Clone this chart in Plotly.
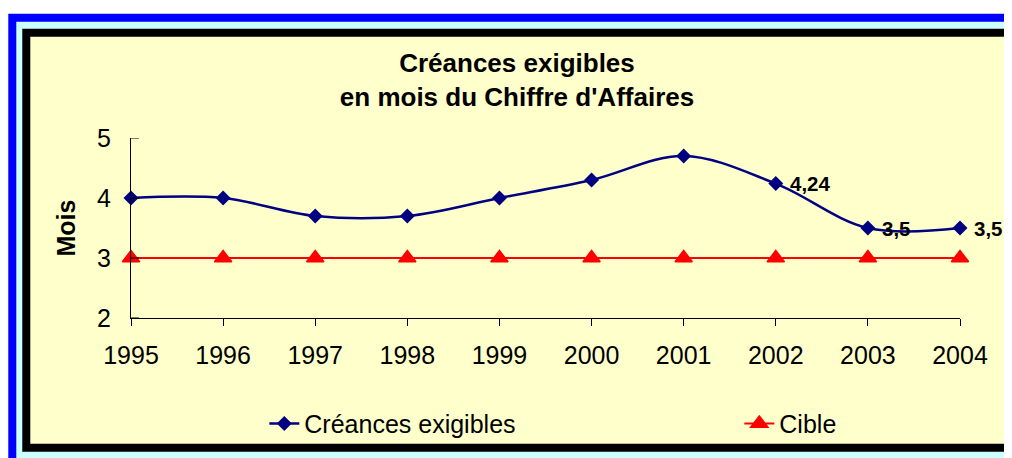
import plotly.graph_objects as go

# ---- data ----
years = [1995, 1996, 1997, 1998, 1999, 2000, 2001, 2002, 2003, 2004]
creances = [4.0, 4.0, 3.7, 3.7, 4.0, 4.3, 4.7, 4.24, 3.5, 3.5]
cible = [3, 3, 3, 3, 3, 3, 3, 3, 3, 3]
labeled_years = [2002, 2003, 2004]
y_ticks = [2, 3, 4, 5]
title_text = "Créances exigibles<br>en mois du Chiffre d'Affaires"
y_title = "Mois"
series_names = ["Créances exigibles", "Cible"]

# ---- geometry (page pixels; the page body adds an 8px offset) ----
W, H = 1012, 458
OFF = 8
L, R, T, B = 130.7 - OFF, 959.6 - OFF, 138.3 - OFF, 318.3 - OFF


def px(x):
    return (x - OFF - L) / (R - L)


def py(y):
    return (B - (y - OFF)) / (B - T)


FONT = "Liberation Sans, Arial, sans-serif"

fig = go.Figure()
fig.add_trace(go.Scatter(
    x=years, y=creances, name=series_names[0], mode="lines+markers",
    line=dict(color="#000080", width=2.5, shape="spline", smoothing=1),
    marker=dict(symbol="diamond", size=11.5, color="#000080"),
    cliponaxis=False, legendwidth=430,
))
fig.add_trace(go.Scatter(
    x=years, y=cible, name=series_names[1], mode="lines+markers",
    line=dict(color="#FF0000", width=2),
    marker=dict(symbol="triangle-up", size=15, color="#FF0000",
                line=dict(color="#FF0000", width=1.5)),
    cliponaxis=False, legendwidth=80,
))

annotations = []
for yr, v in zip(years, creances):
    if yr in labeled_years:
        annotations.append(dict(
            x=yr, y=v, xref="x", yref="y", text=f"{v:g}".replace(".", ","),
            showarrow=False, xanchor="left", yanchor="middle", xshift=12,
            font=dict(family=FONT, size=20.5, color="black", weight="bold")))

shapes = [
    dict(type="rect", xref="paper", yref="paper", layer="below",
         x0=px(8), y0=py(14), x1=px(1060), y1=py(520),
         fillcolor="#0000FF", line=dict(width=0)),
    dict(type="rect", xref="paper", yref="paper", layer="below",
         x0=px(16), y0=py(22), x1=px(1060), y1=py(520),
         fillcolor="#CCFFFF", line=dict(width=0)),
    dict(type="rect", xref="paper", yref="paper", layer="below",
         x0=px(26), y0=py(33), x1=px(1012), y1=py(448),
         fillcolor="#FFFFCC", line=dict(color="black", width=8)),
]
# crossing y ticks (Excel "cross" tick marks)
for tv in y_ticks:
    shapes.append(dict(type="line", xref="x", yref="y", xsizemode="pixel",
                       xanchor=years[0], x0=-9, x1=8, y0=tv, y1=tv,
                       line=dict(color="black", width=1)))

fig.update_layout(
    width=W, height=H,
    margin=dict(l=L, r=W - R, t=T, b=H - B, pad=0, autoexpand=False),
    paper_bgcolor="white", plot_bgcolor="rgba(0,0,0,0)",
    font=dict(family=FONT, color="black"),
    shapes=shapes, annotations=annotations,
    title=dict(text=title_text, x=(517 - OFF) / W, xref="container", xanchor="center",
               y=1 - 64 / H, yref="container", yanchor="top",
               font=dict(family=FONT, size=26, color="black", weight="bold")),
    xaxis=dict(range=[1995, 2004], tickvals=years, ticktext=[str(y) for y in years],
               showgrid=False, zeroline=False, showline=True, linecolor="black",
               linewidth=1, ticks="outside", ticklen=7, tickcolor="black",
               tickfont=dict(family=FONT, size=25, color="black"),
               ticklabelstandoff=8),
    yaxis=dict(range=[2, 5], tickvals=y_ticks, showgrid=False, zeroline=False,
               showline=True, linecolor="black", linewidth=1,
               ticks="", tickfont=dict(family=FONT, size=25, color="black"),
               ticklabelstandoff=14,
               title=dict(text=y_title, standoff=14,
                          font=dict(family=FONT, size=25, color="black", weight="bold"))),
    showlegend=True,
    legend=dict(orientation="h", x=px(264), xanchor="left", y=py(424), yanchor="middle",
                bgcolor="rgba(0,0,0,0)", font=dict(family=FONT, size=25, color="black"),
                entrywidthmode="pixels", itemwidth=30, traceorder="normal"),
)

fig.write_html("out.html")
